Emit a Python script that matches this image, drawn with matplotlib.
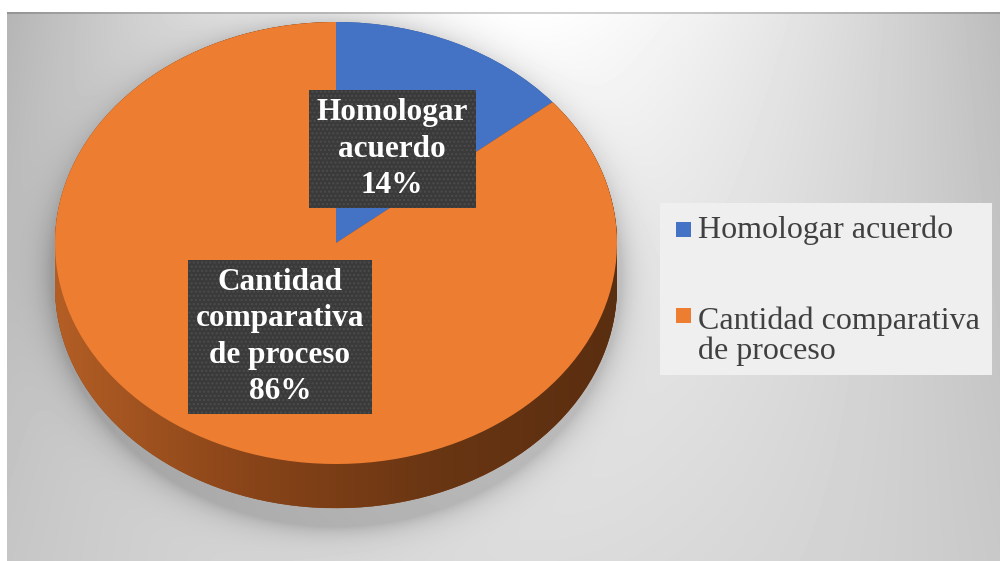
import numpy as np
import matplotlib
matplotlib.use("Agg")
import matplotlib.pyplot as plt
from matplotlib.colors import LinearSegmentedColormap
from matplotlib.patches import Rectangle

# ---------------- data ----------------
categories = ["Homologar acuerdo", "Cantidad comparativa de proceso"]
values = [14, 86]
label_lines = ["Homologar\nacuerdo", "Cantidad\ncomparativa\nde proceso"]
legend_lines = ["Homologar acuerdo", "Cantidad comparativa\nde proceso"]
top_colors = ["#4472C4", "#ED7D31"]
side_colors = ["#2F528F", "#8A4519"]

# ---------------- layout (pixels) ----------------
W, H = 1000, 561
cx, cy, rx, ry = 336, 243, 281, 221
depth = 0.20            # in units of the vertical radius

fig = plt.figure(figsize=(W / 100, H / 100), dpi=100)
fig.patch.set_facecolor("white")

# ---------------- background gradient with soft shadow ----------------
bx0, by0 = 7, 12
ny, nx = H - by0, W - bx0
yy, xx = np.mgrid[0:ny, 0:nx].astype(float)
X = xx + bx0
Y = yy + by0
dx = np.abs((X - 520) / 500)
t = (yy / ny) ** 0.8
val = (1 - t) * (1 - 0.28 * dx ** 1.6) + t * (0.86 - 0.08 * dx ** 1.8)
# drop shadow around the pie (mostly sides and below)
r = np.sqrt(((X - cx) / (rx + 4)) ** 2 + ((Y - (cy + 32)) / (ry + 0.5 * depth * ry + 8)) ** 2)
shadow = 0.16 * np.exp(-np.clip(r - 1, 0, None) / 0.05)
val = val - shadow
val[0:2, :] *= 0.82
bg = fig.add_axes([bx0 / W, 0, nx / W, ny / H])
bg.imshow(np.clip(val, 0, 1), cmap="gray", vmin=0, vmax=1, aspect="auto",
          interpolation="bilinear")
bg.axis("off")

# ---------------- pie axes ----------------
ylo = -1 - depth - 0.05
ax_left = (cx - rx) / W
ax_w = 2 * rx / W
ax_top_px = cy - ry
ax_bot_px = cy + (-ylo) * ry
ax = fig.add_axes([ax_left, (H - ax_bot_px) / H, ax_w, (ax_bot_px - ax_top_px) / H])
ax.patch.set_alpha(0)

side_cmap = LinearSegmentedColormap.from_list("side", ["#b35e25", "#8a4519", "#6a3613", "#5a2e10"])
grad = np.linspace(0, 1, 256).reshape(1, -1)

for off in np.linspace(depth, 0.0, 30):
    w, _ = ax.pie(values, colors=side_colors, startangle=90, counterclock=False,
                  center=(0, -off), radius=1,
                  wedgeprops=dict(linewidth=0, zorder=1))
    im = ax.imshow(grad, cmap=side_cmap, extent=(-1, 1, -1 - depth, 1),
                   aspect="auto", zorder=2, interpolation="bilinear")
    im.set_clip_path(w[1])

labels = [f"{lab}\n{v}%" for lab, v in zip(label_lines, values)]
wedges, texts = ax.pie(values, colors=top_colors, labels=labels, labeldistance=0.47,
                       startangle=90, counterclock=False, radius=1,
                       wedgeprops=dict(linewidth=0, zorder=3))
for tx in texts:
    tx.set_ha("center")
    tx.set_va("center")
    tx.set_multialignment("center")
    tx.set_family("Liberation Serif")
    tx.set_weight("bold")
    tx.set_fontsize(22.5)
    tx.set_color("white")
    tx.set_linespacing(1.33)
    tx.set_zorder(6)
    tx.set_bbox(dict(boxstyle="square,pad=0.25", facecolor="#3a3a3a",
                     edgecolor="#4c4c4c", linewidth=0, hatch="...."))

ax.set_aspect("auto")
ax.set_xlim(-1, 1)
ax.set_ylim(ylo, 1)
ax.axis("off")

# ---------------- legend ----------------
fig.add_artist(Rectangle((660 / W, 1 - 375 / H), 332 / W, 172 / H,
                         transform=fig.transFigure, facecolor="#efefef",
                         edgecolor="none", zorder=1))
sq_tops = [222, 308]
txt_tops = [215, 307]
for i in range(len(categories)):
    fig.add_artist(Rectangle((676 / W, 1 - (sq_tops[i] + 15) / H), 15 / W, 15 / H,
                             transform=fig.transFigure, facecolor=top_colors[i],
                             edgecolor="none", zorder=2))
    fig.text(698 / W, 1 - txt_tops[i] / H, legend_lines[i], va="top", ha="left",
             fontsize=23, family="Liberation Serif", color="#404040",
             linespacing=1.0, zorder=3)

fig.savefig("out.png", dpi=100)
